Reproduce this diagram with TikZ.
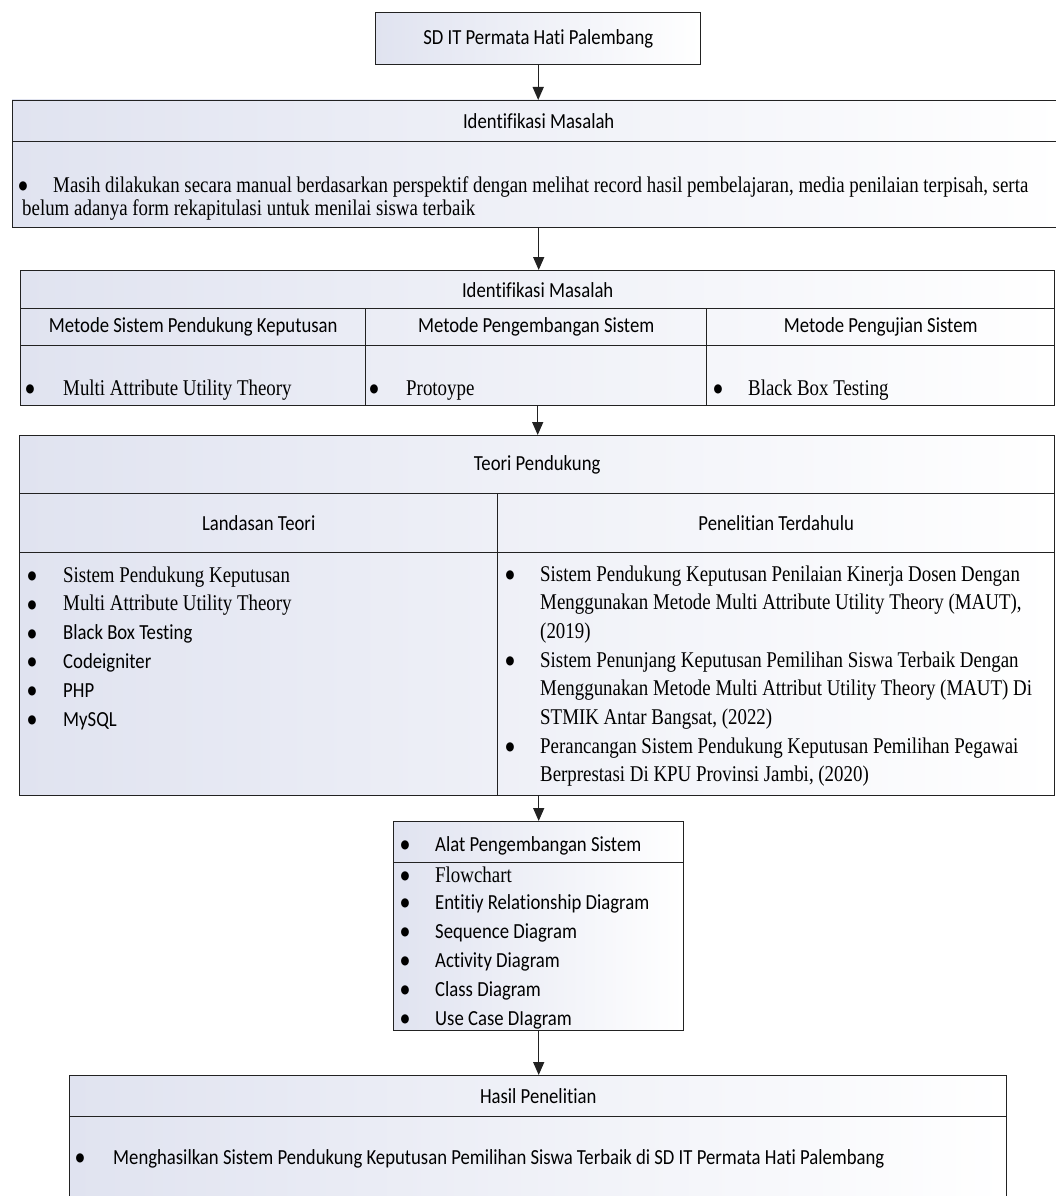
\documentclass[tikz,border=0pt]{standalone}
\usepackage{fontspec}
\setmainfont{Liberation Serif}
\newfontfamily\tmsfont[FakeStretch=0.84]{Liberation Serif}
\newfontfamily\calfont[FakeStretch=0.87,Ligatures=NoCommon]{Carlito}
\newfontfamily\symfont[FakeStretch=0.85]{DejaVu Sans}
\usetikzlibrary{arrows.meta,positioning}
\definecolor{ink}{HTML}{222222}
\definecolor{tint}{HTML}{E0E3F0}
\tikzset{
  >={Triangle[length=13pt,width=11pt]},
  panel/.style={left color=tint,right color=white},
  cell/.style={draw=ink,line width=1.4pt,inner sep=0pt,anchor=north west,font=\calfont\fontsize{21.5}{24}\selectfont},
  sz/.style 2 args={minimum width=#1pt,minimum height=#2pt},
  bulletmark/.style={anchor=base,inner sep=0pt,yshift=2.5pt,font=\symfont\fontsize{12}{12}\selectfont},
  tms/.style={anchor=base west,inner sep=0pt,font=\tmsfont\fontsize{22.5}{24}\selectfont},
  cal/.style={anchor=base west,inner sep=0pt,font=\calfont\fontsize{21.5}{24}\selectfont},
  arr/.style={->,line width=1.4pt,draw=ink}
}
\begin{document}
\begin{tikzpicture}[x=1pt,y=-1pt]
  \useasboundingbox (0,0) rectangle (1056,1196);
  \fill[white] (0,0) rectangle (1056,1196);

  % sekolah
  \node[cell,panel,sz={325}{52}] (top) at (375,12) {SD IT Permata Hati Palembang};

  % identifikasi masalah
  \path[panel] (12,100) rectangle (1064,227);
  \node[cell,sz={1052}{41}] (masalah) at (12,100) {Identifikasi Masalah};
  \node[cell,sz={1052}{86}] (masalahbody) at (12,141) {};
  \node[bulletmark] (masalah-dot) at (23,192) {●};
  \node[tms] (masalah-1) at (53,192) {Masih dilakukan secara manual berdasarkan perspektif dengan melihat record hasil pembelajaran, media penilaian terpisah, serta};
  \node[tms] (masalah-2) at (22,215) {belum adanya form rekapitulasi untuk menilai siswa terbaik};

  % metode
  \path[panel] (20,270) rectangle (1054,405);
  \node[cell,sz={1034}{38}] (metode) at (20,270) {Identifikasi Masalah};
  \node[cell,sz={345}{37}] (spk) at (20,308) {Metode Sistem Pendukung Keputusan};
  \node[cell,sz={341}{37}] (pengembangan) at (365,308) {Metode Pengembangan Sistem};
  \node[cell,sz={348}{37}] (pengujian) at (706,308) {Metode Pengujian Sistem};
  \node[cell,sz={345}{60}] (spkbody) at (20,345) {};
  \node[cell,sz={341}{60}] (pengembanganbody) at (365,345) {};
  \node[cell,sz={348}{60}] (pengujianbody) at (706,345) {};
  \foreach \bx/\tx/\txt [count=\k] in {30/63/Multi Attribute Utility Theory,374/406/Protoype,718/748/Black Box Testing}{
    \node[bulletmark] (metode-dot-\k) at (\bx,395) {●};
    \node[tms] (metode-\k) at (\tx,395) {\txt};
  }

  % teori pendukung
  \path[panel] (19,435) rectangle (1054,795);
  \node[cell,sz={1035}{58}] (teori) at (19,435) {Teori Pendukung};
  \node[cell,sz={478}{59}] (landasan) at (19,493) {Landasan Teori};
  \node[cell,sz={557}{59}] (terdahulu) at (497,493) {Penelitian Terdahulu};
  \node[cell,sz={478}{243}] (landasanbody) at (19,552) {};
  \node[cell,sz={557}{243}] (terdahulubody) at (497,552) {};
  \foreach \txt/\fnt [count=\k from 0] in {Sistem Pendukung Keputusan/tms,Multi Attribute Utility Theory/tms,Black Box Testing/cal,Codeigniter/cal,PHP/cal,MySQL/cal}{
    \node[bulletmark] (landasan-dot-\k) at (32,{582+28.8*\k}) {●};
    \node[\fnt] (landasan-\k) at (63,{582+28.8*\k}) {\txt};
  }
  \foreach \txt [count=\k from 0] in {Sistem Pendukung Keputusan Penilaian Kinerja Dosen Dengan,
      {Menggunakan Metode Multi Attribute Utility Theory (MAUT),},
      (2019),
      Sistem Penunjang Keputusan Pemilihan Siswa Terbaik Dengan,
      Menggunakan Metode Multi Attribut Utility Theory (MAUT) Di,
      {STMIK Antar Bangsat, (2022)},
      Perancangan Sistem Pendukung Keputusan Pemilihan Pegawai,
      {Berprestasi Di KPU Provinsi Jambi, (2020)}}{
    \node[tms] (terdahulu-\k) at (540,{581+28.7*\k}) {\txt};
  }
  \foreach \k in {0,3,6}{
    \node[bulletmark] (terdahulu-dot-\k) at (510,{581+28.7*\k}) {●};
  }

  % alat pengembangan sistem
  \path[panel] (393,821) rectangle (683,1030);
  \node[cell,sz={290}{41}] (alat) at (393,821) {};
  \node[cell,sz={290}{168}] (alatbody) at (393,862) {};
  \foreach \yy/\txt/\fnt [count=\k] in {851/Alat Pengembangan Sistem/cal,882/Flowchart/tms,909/Entitiy Relationship Diagram/cal,938/Sequence Diagram/cal,967/Activity Diagram/cal,996/Class Diagram/cal,1025/Use Case DIagram/cal}{
    \node[bulletmark] (alat-dot-\k) at (405,\yy) {●};
    \node[\fnt] (alat-\k) at (435,\yy) {\txt};
  }

  % hasil penelitian
  \path[panel] (69,1075) rectangle (1006,1216);
  \node[cell,sz={937}{41}] (hasil) at (69,1075) {Hasil Penelitian};
  \node[cell,sz={937}{100}] (hasilbody) at (69,1116) {};
  \node[bulletmark] (hasil-dot) at (80,1164) {●};
  \node[cal] (hasil-1) at (113,1164) {Menghasilkan Sistem Pendukung Keputusan Pemilihan Siswa Terbaik di SD IT Permata Hati Palembang};

  \draw[arr] (top.south) -- (top.south |- masalah.north);
  \draw[arr] (masalahbody.south) -- (masalahbody.south |- metode.north);
  \draw[arr] (metode.center |- pengembanganbody.south) -- (metode.center |- teori.north);
  \draw[arr] (alat.center |- landasanbody.south) -- (alat.north);
  \draw[arr] (alatbody.south) -- (alatbody.south |- hasil.north);
\end{tikzpicture}
\end{document}
